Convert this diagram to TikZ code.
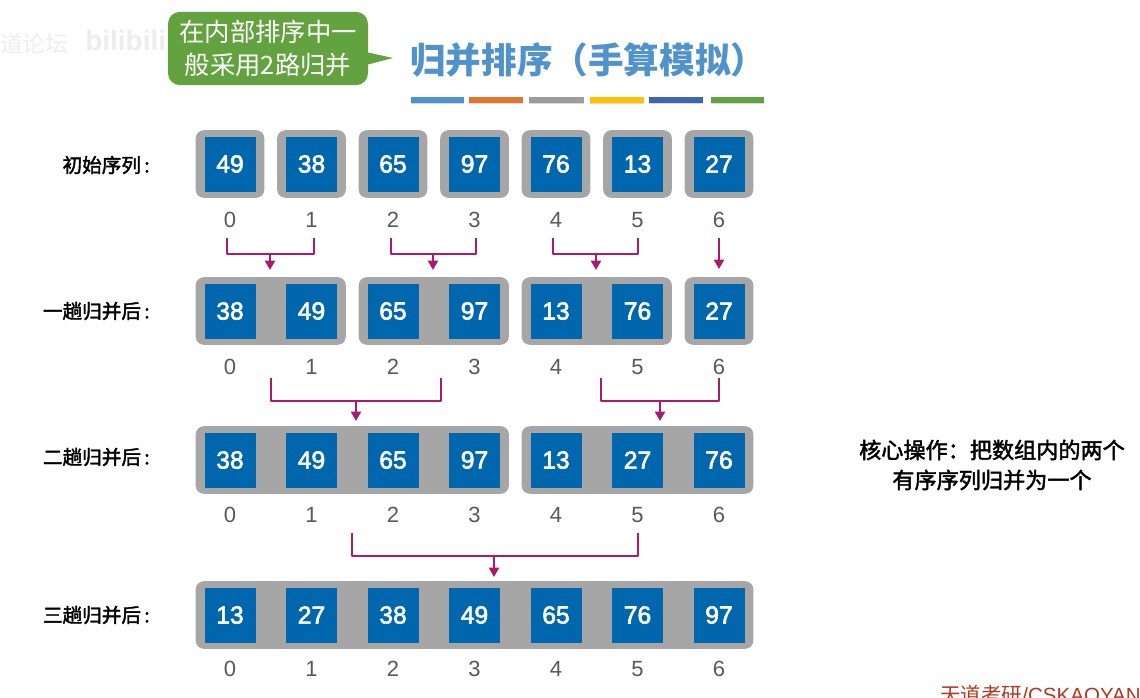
\documentclass[tikz,border=0pt]{standalone}
\usepackage{fontspec}
\setmainfont{Liberation Sans}
\newfontfamily\cjk{Noto Sans CJK SC}
\newfontfamily\cjkvua[FakeBold=2]{Noto Sans CJK SC}
\newfontfamily\sovua[FakeBold=2.5]{Liberation Sans}
\usetikzlibrary{arrows.meta,fit,backgrounds,shadows}
\definecolor{xanhso}{HTML}{0067AE}
\definecolor{xamnen}{HTML}{A6A6A6}
\definecolor{hongnoi}{HTML}{AD1A6C}
\definecolor{xanhla}{HTML}{62A33F}
\definecolor{xanhtua}{HTML}{4F92CC}
\definecolor{camvach}{HTML}{E0752B}
\definecolor{xamvach}{HTML}{9C9C9C}
\definecolor{vangvach}{HTML}{FFC000}
\definecolor{lamvach}{HTML}{3D66B0}
\definecolor{nauchu}{HTML}{B03A1E}
\begin{document}
\begin{tikzpicture}[x=0.75pt, y=-0.75pt, line join=round, >={Stealth[length=7pt,width=7.5pt,inset=0pt]},
	oso/.style={fill=xanhso, text=white, minimum width=38.25pt, minimum height=41.25pt, inner sep=0pt, font=\sovua\fontsize{18.5}{20}\selectfont},
	nhom/.style={fill=xamnen, rounded corners=6pt, inner xsep=6.4pt, inner ysep=4.5pt},
	chiso/.style={text=black!65, inner sep=0pt, font=\fontsize{16.5}{18}\selectfont},
	tenhang/.style={anchor=east, inner sep=0pt, font=\cjkvua\fontsize{14.7}{16}\selectfont},
	noi/.style={draw=hongnoi, line width=1.6pt}]
	\useasboundingbox (0,0) rectangle (1140,697);
	\node[text=black!7, anchor=west, inner sep=0pt, font=\cjk\fontsize{17}{20}\selectfont] (logoa) at (0,44) {道论坛};
	\node[text=black!7, anchor=west, inner sep=0pt, font=\fontsize{21}{24}\selectfont\bfseries] (logob) at (85,40) {bilibili};
	\node[fill=xanhla, rounded corners=9pt, minimum width=150pt, minimum height=55pt, inner sep=0pt, text=white, align=center, font=\cjk\fontsize{19}{25}\selectfont] (goiy) at (268,48.5) {在内部排序中一\\般采用2路归并};
	\coordinate (dinhgoiy) at (393,58);
	\fill[xanhla] (366,52) -- (dinhgoiy) -- (366,65) -- cycle;
	\node[text=xanhtua, anchor=west, inner sep=0pt, font=\cjk\fontsize{26.7}{30}\selectfont\bfseries] (tieude) at (410,60) {归并排序（手算模拟）};
	\foreach \xa/\xb/\mau in {411/464/xanhtua, 469/523/camvach, 529/584/xamvach, 590/644/vangvach, 649/703/lamvach, 711/764/xanhla}
		\fill[\mau, drop shadow={shadow xshift=0pt, shadow yshift=-1pt, opacity=0.3}] (\xa,97) rectangle (\xb,103);
	\foreach \hang/\y/\yi/\yt/\ten/\day in {a/164/220/165/初始序列\,:/{49,38,65,97,76,13,27},
		b/311/367/311/一趟归并后\,:/{38,49,65,97,13,76,27},
		c/460/515/457/二趟归并后\,:/{38,49,65,97,13,27,76},
		d/615/669/615/三趟归并后\,:/{13,27,38,49,65,76,97}} {
		\node[tenhang] (ten\hang) at (150,\yt) {\ten};
		\foreach \so [count=\cot from 0] in \day {
			\node[oso] (o\hang\cot) at ({230+81.5*\cot},\y) {\so};
			\node[chiso] (i\hang\cot) at ({230+81.5*\cot},\yi) {\cot};
		}
	}
	\begin{scope}[on background layer]
		\foreach \ma/\dau/\cuoi in {g0/oa0/oa0, g1/oa1/oa1, g2/oa2/oa2, g3/oa3/oa3, g4/oa4/oa4, g5/oa5/oa5, g6/oa6/oa6,
			h0/ob0/ob1, h1/ob2/ob3, h2/ob4/ob5, h3/ob6/ob6,
			k0/oc0/oc3, k1/oc4/oc6,
			m0/od0/od6}
			\node[nhom, fit=(\dau)(\cuoi)] (\ma) {};
	\end{scope}
	\foreach \ten/\xa/\xb/\xm/\ya/\yb/\yc in {p/227/314/270/238/254/270, q/391/476/433/238/254/270, r/553/638/596/238/254/270,
		s/271/441/356/378/401/421, t/601/719/660/378/401/421,
		u/352/638/494/533/556/577} {
		\coordinate (l\ten) at (\xa,\ya);
		\coordinate (r\ten) at (\xb,\ya);
		\coordinate (m\ten) at (\xm,\yb);
		\coordinate (d\ten) at (\xm,\yc);
		\draw[noi] (l\ten) |- (m\ten) -| (r\ten);
		\draw[noi,->] (m\ten) -- (d\ten);
	}
	\coordinate (lv) at (719,238);
	\coordinate (dv) at (719,269);
	\draw[noi,->] (lv) -- (dv);
	\node[align=center, inner sep=0pt, font=\cjkvua\fontsize{16.6}{22.5}\selectfont] (ghichu) at (992,465) {核心操作：把数组内的两个\\有序序列归并为一个};
	\node[text=nauchu, anchor=west, inner sep=0pt, font=\fontsize{15.4}{18}\selectfont] (nguon) at (940,695) {{\cjk 天道考研}/CSKAOYAN};
\end{tikzpicture}
\end{document}
